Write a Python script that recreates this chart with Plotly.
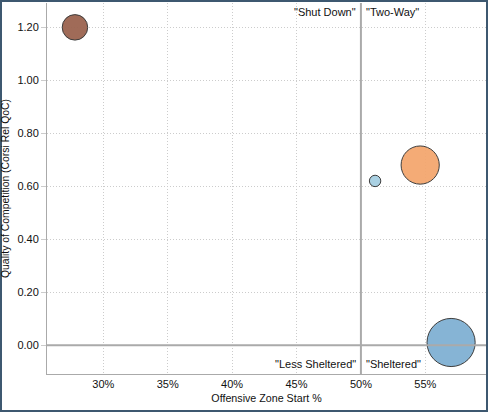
import plotly.graph_objects as go

# player bubbles: offensive zone start %, quality of competition, ice time
ozs_pct = [27.8, 51.1, 54.6, 57.0]
qoc = [1.20, 0.62, 0.68, 0.01]
toi = [325, 65, 730, 1160]
colors = ["#9b6450", "#a6cfe2", "#f4a76f", "#80b1d3"]

x_ticks = [30, 35, 40, 45, 50, 55]
y_ticks = [0.0, 0.2, 0.4, 0.6, 0.8, 1.0, 1.2]

quadrants = [
    ("\"Shut Down\"", 50, 1.292, "right", "top"),
    ("\"Two-Way\"", 50, 1.292, "left", "top"),
    ("\"Less Sheltered\"", 50, -0.109, "right", "bottom"),
    ("\"Sheltered\"", 50, -0.109, "left", "bottom"),
]

W, H = 488, 412
ML, MR, MT, MB = 47, 2, 3, 38
pw, ph = W - ML - MR, H - MT - MB

fig = go.Figure()
fig.add_trace(go.Scatter(
    x=ozs_pct, y=qoc, mode="markers",
    marker=dict(size=toi, sizemode="area", sizeref=1, color=colors,
                opacity=0.95, line=dict(color="#333333", width=1)),
    hoverinfo="x+y",
))

# quadrant dividers
fig.add_shape(type="line", xref="x", yref="paper", x0=50, x1=50, y0=0, y1=1,
              line=dict(color="#aaaaaa", width=2), layer="above")
fig.add_shape(type="line", xref="paper", yref="y", x0=0, x1=1, y0=0, y1=0,
              line=dict(color="#aaaaaa", width=2), layer="above")

# outer frame
fig.add_shape(type="rect", xref="paper", yref="paper",
              x0=(1 - ML) / pw, x1=(W - 1 - ML) / pw,
              y0=(ph + MT - (H - 1)) / ph, y1=(ph + MT - 1) / ph,
              line=dict(color="#3d5870", width=2), layer="above")

for text, x, y, xa, ya in quadrants:
    fig.add_annotation(x=x, y=y, text=text, showarrow=False,
                       xanchor=xa, yanchor=ya, xshift=-3 if xa == "right" else 3,
                       yshift=-1 if ya == "top" else 2,
                       font=dict(size=11, color="#111111"))

fig.update_xaxes(
    range=[25.63, 59.71], tickvals=x_ticks, ticktext=[f"{v}%" for v in x_ticks],
    showgrid=True, gridcolor="#cccccc", griddash="1px,2px", gridwidth=1,
    zeroline=False, showline=True, linecolor="#aaaaaa", linewidth=1,
    ticks="", tickfont=dict(size=11),
    title=dict(text="Offensive Zone Start %", standoff=5, font=dict(size=10.7)),
)
fig.update_yaxes(
    range=[-0.109, 1.292], tickvals=y_ticks, ticktext=[f"{v:.2f}" for v in y_ticks],
    showgrid=True, gridcolor="#cccccc", griddash="1px,2px", gridwidth=1,
    zeroline=False, showline=True, linecolor="#aaaaaa", linewidth=1, mirror=True,
    ticks="outside", ticklen=5, tickcolor="#cccccc", tickfont=dict(size=11),
    title=dict(text="Quality of Competition (Corsi Rel QoC)", standoff=6, font=dict(size=10.4)),
)

fig.update_layout(
    width=W, height=H,
    margin=dict(l=ML, r=MR, t=MT, b=MB),
    plot_bgcolor="white", paper_bgcolor="white",
    font=dict(family="Liberation Sans, Arial, sans-serif", size=11, color="#111111"),
    showlegend=False,
)

fig.write_html("out.html", config={"displayModeBar": False},
               post_script="document.body.style.margin='0';")
